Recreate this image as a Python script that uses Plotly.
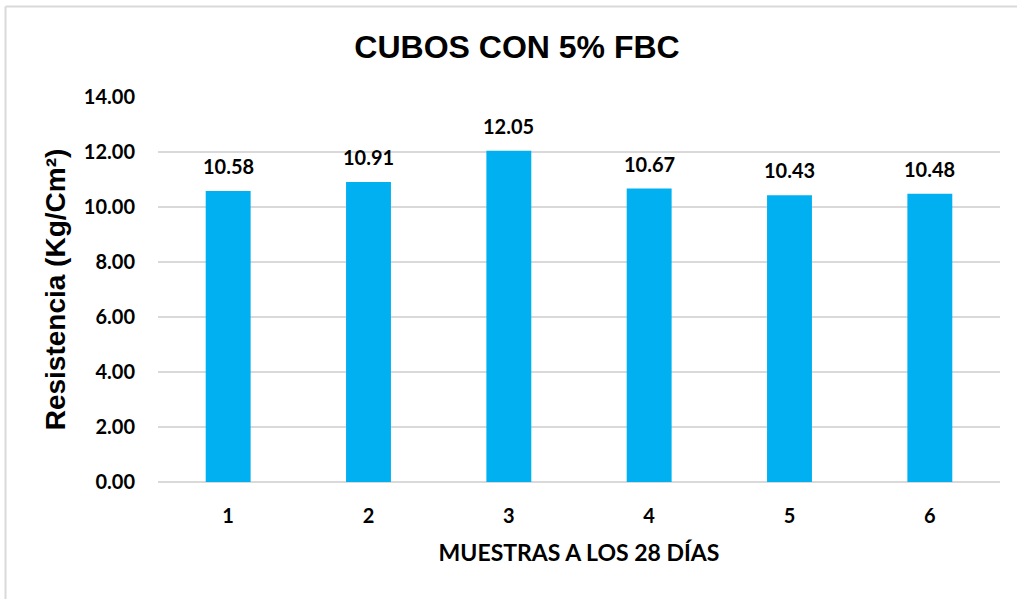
import plotly.graph_objects as go

categories = ["1", "2", "3", "4", "5", "6"]
values = [10.58, 10.91, 12.05, 10.67, 10.43, 10.48]
y_ticks = [0, 2, 4, 6, 8, 10, 12, 14]

title_text = "CUBOS CON 5% FBC"
x_title = "MUESTRAS A LOS 28 DÍAS"
y_title = "Resistencia (Kg/Cm²)"

W, H = 1017, 599
ML, MR, MT, MB = 158, 17, 97, 117
pw, ph = W - ML - MR, H - MT - MB

def px_x(p):
    return (p - ML) / pw

def px_y(p):
    return (H - MB - p) / ph

fig = go.Figure()
fig.add_trace(go.Bar(
    x=categories, y=values,
    marker=dict(color="#00B0F0", line=dict(width=0)),
    width=0.32,
    hoverinfo="x+y",
))

for i, v in enumerate(values):
    fig.add_annotation(
        x=i, y=v, xref="x", yref="y",
        text=f"{v:.2f}", showarrow=False,
        yanchor="bottom", yshift=11,
        font=dict(family="Lato", size=20, color="#000000", weight="bold"),
    )

fig.update_layout(
    width=W, height=H,
    margin=dict(l=ML, r=MR, t=MT, b=MB),
    paper_bgcolor="white", plot_bgcolor="white",
    showlegend=False,
    title=dict(text=title_text, x=517 / W, xanchor="center", y=1 - 47 / H, yanchor="middle",
               font=dict(family="Arial", size=32, color="#000000", weight="bold")),
    xaxis=dict(
        type="category", range=[-0.5, len(categories) - 0.5],
        showgrid=False, showline=False, ticks="",
        ticklabelstandoff=20,
        tickfont=dict(family="Lato", size=20, color="#000000", weight="bold"),
        title=dict(text=x_title, standoff=18,
                   font=dict(family="Lato", size=23, color="#000000", weight="bold")),
    ),
    yaxis=dict(
        range=[0, 14], tickvals=y_ticks, tickformat=".2f",
        showgrid=True, gridcolor="#D9D9D9", gridwidth=1.5,
        zeroline=True, zerolinecolor="#D9D9D9", zerolinewidth=1.5,
        showline=False, ticks="", ticklabelstandoff=22,
        tickfont=dict(family="Lato", size=20, color="#000000", weight="bold"),
        title=dict(text=y_title, standoff=10,
                   font=dict(family="Arial", size=28, color="#000000", weight="bold")),
    ),
)

# outer chart border (left and top visible)
fig.add_shape(type="line", xref="paper", yref="paper",
              x0=px_x(5.5), x1=px_x(1030), y0=px_y(6.5), y1=px_y(6.5),
              line=dict(color="#D9D9D9", width=2))
fig.add_shape(type="line", xref="paper", yref="paper",
              x0=px_x(5.5), x1=px_x(5.5), y0=px_y(6.5), y1=px_y(620),
              line=dict(color="#D9D9D9", width=2))

fig.write_html("out.html", config={"displayModeBar": False},
               post_script="document.body.style.margin='0';document.body.style.overflow='hidden';")
